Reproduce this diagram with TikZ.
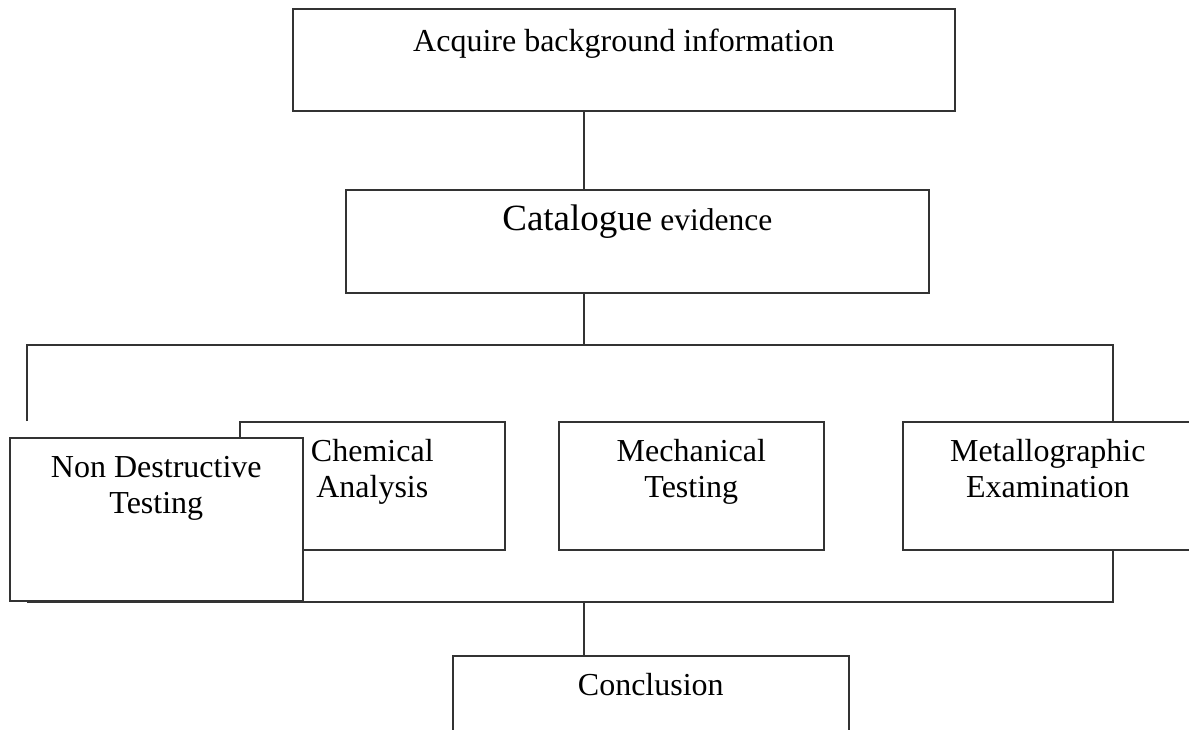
\documentclass[tikz,border=0pt]{standalone}
\usepackage{fontspec}
\setmainfont{Liberation Serif}
\begin{document}
\begin{tikzpicture}[x=1pt,y=-1pt,
  box/.style={draw=black!80, line width=1.6pt, fill=white, rectangle, inner sep=0pt, anchor=north west},
  conn/.style={draw=black!80, line width=1.6pt},
  lbl/.style={font=\fontsize{32}{36}\selectfont, align=center, anchor=base, inner sep=0pt, text=black}]
\clip (0,0) rectangle (1189,729);
\fill[white] (0,0) rectangle (1189,729);
% boxes
\node[box, minimum width=662pt, minimum height=102pt] (top) at (292,8) {};
\node[box, minimum width=583pt, minimum height=103pt] (cat) at (345,189) {};
\node[box, minimum width=265pt, minimum height=128pt] (chem) at (239,421) {};
\node[box, minimum width=293pt, minimum height=163pt] (ndt) at (9,437) {};
\node[box, minimum width=265pt, minimum height=128pt] (mech) at (558,421) {};
\node[box, minimum width=290pt, minimum height=128pt] (met) at (902,421) {};
\node[box, minimum width=396pt, minimum height=120pt] (conc) at (452,655) {};
% labels (base anchor = baseline of the last line)
\node[lbl] (topt) at ([yshift=-43pt]top.north) {Acquire background information};
\node[lbl] (catt) at ([yshift=-41pt]cat.north) {{\fontsize{37}{40}\selectfont Catalogue} {\fontsize{31.5}{36}\selectfont evidence}};
\node[lbl] (ndtt) at ([yshift=-76pt]ndt.north) {Non Destructive\\Testing};
\node[lbl] (chemt) at ([yshift=-76pt]chem.north) {Chemical\\Analysis};
\node[lbl] (mecht) at ([yshift=-76pt]mech.north) {Mechanical\\Testing};
\node[lbl] (mett) at ([yshift=-76pt]met.north) {Metallographic\\Examination};
\node[lbl] (conct) at ([yshift=-40pt]conc.north) {Conclusion};
% junction coordinates
\coordinate (cx) at (584,0);
\coordinate (L1) at (27,345);
\coordinate (R1) at (1113,345);
\coordinate (Ls) at (27,421);
\coordinate (L2) at (27,602);
\coordinate (R2) at (1113,602);
% connectors
\draw[conn] (top.south -| cx) -- (cat.north -| cx);
\draw[conn] (cat.south -| cx) -- (cx |- L1);
\draw[conn] (Ls) -- (L1) -- (R1) -- (met.north -| R1);
\draw[conn] (met.south -| R2) -- (R2) -- (L2);
\draw[conn] (cx |- L2) -- (conc.north -| cx);
\end{tikzpicture}
\end{document}
